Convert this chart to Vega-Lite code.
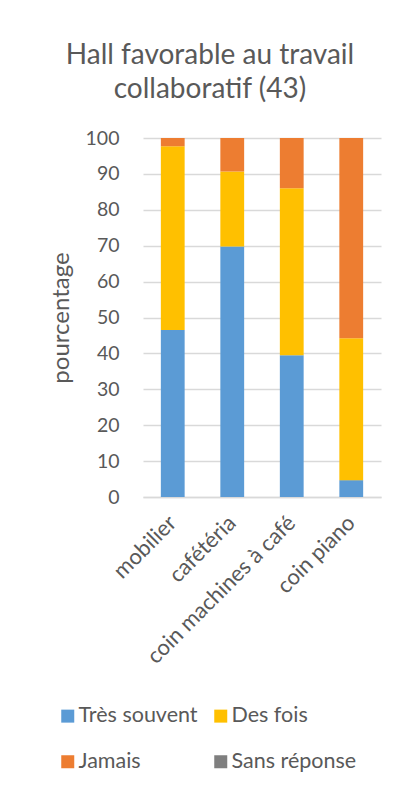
{
  "$schema": "https://vega.github.io/schema/vega-lite/v6.json",
  "autosize": "none",
  "width": 238,
  "height": 359,
  "padding": {"left": 143, "top": 138, "right": 25, "bottom": 292},
  "background": "white",
  "config": {
    "font": "Lato",
    "view": {"stroke": null},
    "axis": {"labelColor": "#595959", "titleColor": "#595959", "labelFont": "Lato", "titleFont": "Lato"}
  },
  "title": {
    "text": ["Hall favorable au travail", "collaboratif (43)"],
    "fontSize": 28,
    "fontWeight": "normal",
    "color": "#595959",
    "anchor": "middle",
    "dx": -52,
    "offset": 24,
    "lineHeight": 34
  },
  "data": {
    "values": [
      {"lieu": "mobilier", "reponse": "Très souvent", "ordre": 1, "pct": 46.5},
      {"lieu": "mobilier", "reponse": "Des fois", "ordre": 2, "pct": 51.2},
      {"lieu": "mobilier", "reponse": "Jamais", "ordre": 3, "pct": 2.3},
      {"lieu": "mobilier", "reponse": "Sans réponse", "ordre": 4, "pct": 0},
      {"lieu": "cafétéria", "reponse": "Très souvent", "ordre": 1, "pct": 69.8},
      {"lieu": "cafétéria", "reponse": "Des fois", "ordre": 2, "pct": 20.9},
      {"lieu": "cafétéria", "reponse": "Jamais", "ordre": 3, "pct": 9.3},
      {"lieu": "cafétéria", "reponse": "Sans réponse", "ordre": 4, "pct": 0},
      {"lieu": "coin machines à café", "reponse": "Très souvent", "ordre": 1, "pct": 39.5},
      {"lieu": "coin machines à café", "reponse": "Des fois", "ordre": 2, "pct": 46.5},
      {"lieu": "coin machines à café", "reponse": "Jamais", "ordre": 3, "pct": 14.0},
      {"lieu": "coin machines à café", "reponse": "Sans réponse", "ordre": 4, "pct": 0},
      {"lieu": "coin piano", "reponse": "Très souvent", "ordre": 1, "pct": 4.7},
      {"lieu": "coin piano", "reponse": "Des fois", "ordre": 2, "pct": 39.5},
      {"lieu": "coin piano", "reponse": "Jamais", "ordre": 3, "pct": 55.8},
      {"lieu": "coin piano", "reponse": "Sans réponse", "ordre": 4, "pct": 0}
    ]
  },
  "mark": {"type": "bar"},
  "encoding": {
    "x": {
      "field": "lieu",
      "type": "nominal",
      "sort": ["mobilier", "cafétéria", "coin machines à café", "coin piano"],
      "scale": {"paddingInner": 0.6, "paddingOuter": 0.3},
      "axis": {
        "title": null,
        "labelAngle": -45,
        "labelAlign": "right",
        "labelBaseline": "middle",
        "labelFontSize": 22,
        "labelPadding": 22,
        "ticks": false,
        "domain": true,
        "domainColor": "#D9D9D9",
        "domainWidth": 1.5,
        "labelLimit": 300
      }
    },
    "y": {
      "field": "pct",
      "type": "quantitative",
      "stack": "zero",
      "scale": {"domain": [0, 100], "nice": false},
      "axis": {
        "title": "pourcentage",
        "titleFontSize": 24,
        "titleFontWeight": "normal",
        "titlePadding": 12,
        "values": [0, 10, 20, 30, 40, 50, 60, 70, 80, 90, 100],
        "labelFontSize": 19.5,
        "labelPadding": 24,
        "ticks": false,
        "domain": false,
        "grid": true,
        "gridColor": "#D9D9D9",
        "gridWidth": 1.5
      }
    },
    "color": {
      "field": "reponse",
      "type": "nominal",
      "scale": {
        "domain": ["Très souvent", "Des fois", "Jamais", "Sans réponse"],
        "range": ["#5B9BD5", "#FFC000", "#ED7D31", "#7F7F7F"]
      },
      "legend": {
        "title": null,
        "orient": "none",
        "legendX": -86,
        "legendY": 567,
        "direction": "horizontal",
        "columns": 2,
        "symbolType": "square",
        "symbolSize": 169,
        "symbolStrokeWidth": 0,
        "labelFontSize": 21.5,
        "labelColor": "#595959",
        "labelFont": "Lato",
        "columnPadding": 12,
        "rowPadding": 23,
        "symbolOffset": 0,
        "labelOffset": 0
      }
    },
    "order": {"field": "ordre", "type": "quantitative"}
  }
}
